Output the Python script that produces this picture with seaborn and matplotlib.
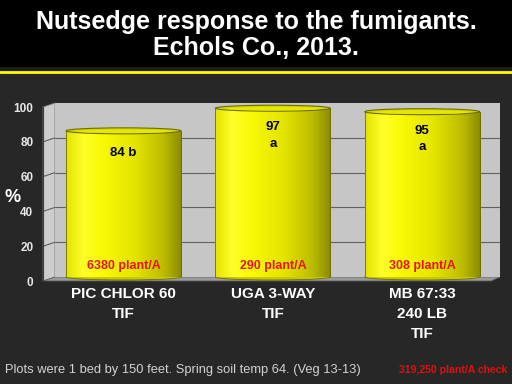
import numpy as np
import pandas as pd
import matplotlib
matplotlib.use("Agg")
import matplotlib.pyplot as plt
import seaborn as sns
from matplotlib.patches import Polygon, Ellipse, Rectangle
from matplotlib.lines import Line2D
from matplotlib.colors import LinearSegmentedColormap

# ---- data ----
categories = ["PIC CHLOR 60\nTIF", "UGA 3-WAY\nTIF", "MB 67:33\n240 LB\nTIF"]
values = [84, 97, 95]
letters = ["b", "a", "a"]
counts = ["6380 plant/A", "290 plant/A", "308 plant/A"]
yticks = [0, 20, 40, 60, 80, 100]
title_lines = ["Nutsedge response to the fumigants.", "Echols Co., 2013."]
footer = "Plots were 1 bed by 150 feet. Spring soil temp 64. (Veg 13-13)"
check = "319,250 plant/A check"

df = pd.DataFrame({"treatment": categories, "control": values})

sns.set_theme(style="white")
plt.rcParams['font.family'] = ['Liberation Sans', 'DejaVu Sans']

W, H = 512, 384
fig = plt.figure(figsize=(5.12, 3.84), dpi=100, facecolor="#272727")

def fx(x):
    return x / W

def fy(y):
    return 1 - y / H

# header band and yellow rule
fig.add_artist(Rectangle((0, fy(67)), 1, 67 / H, transform=fig.transFigure,
                         facecolor="black", edgecolor="none", zorder=-5))
fig.add_artist(Rectangle((0, fy(70)), 1, 3 / H, transform=fig.transFigure,
                         facecolor="#1c1c1c", edgecolor="none", zorder=-5))
fig.add_artist(Line2D([0, 1], [fy(72), fy(72)], transform=fig.transFigure,
                      color="#ffff00", lw=2.0, zorder=-4))
for yy, line in zip([21.5, 48], title_lines):
    fig.text(0.5, fy(yy), line, ha="center", va="center", color="white",
             fontsize=18, fontweight="bold")

# ---- geometry (pixels) ----
wall_l, wall_r, wall_t, wall_b = 55, 500, 103, 277
front_l, front_b = 43, 281
ppu = (wall_b - wall_t) / 100.0

# side wall
side = Polygon([(fx(front_l), fy(front_b)), (fx(front_l), fy(front_b - 100 * ppu)),
                (fx(wall_l), fy(wall_t)), (fx(wall_l), fy(wall_b))],
               closed=True, transform=fig.transFigure, facecolor="#cdcdcd",
               edgecolor="#777777", lw=0.6, zorder=-3)
fig.add_artist(side)
for v in yticks[1:-1]:
    fig.add_artist(Line2D([fx(front_l), fx(wall_l)],
                          [fy(front_b - v * ppu), fy(wall_b - v * ppu)],
                          transform=fig.transFigure, color="#606060", lw=0.8, zorder=-2))
# floor
floor = Polygon([(fx(front_l), fy(front_b)), (fx(wall_l), fy(wall_b)),
                 (fx(wall_r), fy(wall_b)), (fx(wall_r - 9), fy(front_b))],
                closed=True, transform=fig.transFigure, facecolor="#9a9a9a",
                edgecolor="#666666", lw=0.6, zorder=-3)
fig.add_artist(floor)

# ---- main axes (back wall) ----
ax = fig.add_axes([fx(wall_l), fy(wall_b), (wall_r - wall_l) / W, (wall_b - wall_t) / H])
ax.set_facecolor("#c6c6c6")
sns.barplot(data=df, x="treatment", y="control", ax=ax, width=0.77,
            color="#ffff00", saturation=1, edgecolor="#6e6e00", linewidth=0.6)
x0 = -0.459
ax.set_xlim(x0, x0 + (wall_r - wall_l) / 149.3)
ax.set_ylim(0, 100)
for v in yticks[1:-1]:
    ax.axhline(v, color="#606060", lw=0.8, zorder=0)
for s in ax.spines.values():
    s.set_visible(False)
ax.set_yticks([])
ax.set_xlabel("")
ax.set_ylabel("")

cmap = LinearSegmentedColormap.from_list(
    "cyl", [(0, "#e2e200"), (0.15, "#ffff2a"), (0.3, "#fafa08"),
            (0.6, "#e4e400"), (0.85, "#bcbc00"), (1.0, "#8c8c00")])
grad = np.linspace(0, 1, 256)[None, :]
eh = 6 / ppu  # ellipse height in data units
for i, p in enumerate(ax.patches):
    bx, bw, bh = p.get_x(), p.get_width(), p.get_height()
    cx = bx + bw / 2
    # bottom rounded edge
    ax.add_patch(Ellipse((cx, 0), bw, eh, facecolor="#c8c800", edgecolor="#6e6e00",
                         lw=0.6, clip_on=False, zorder=1.5))
    im = ax.imshow(grad, extent=[bx, bx + bw, 0, bh], aspect="auto", cmap=cmap,
                   zorder=2, interpolation="bilinear")
    im.set_clip_path(p)
    ax.add_patch(Rectangle((bx, 0), bw, bh, facecolor="none", edgecolor="#6e6e00",
                           lw=0.6, zorder=2.5))
    ax.add_patch(Ellipse((cx, bh), bw, eh, facecolor="#d6d600", edgecolor="#6e6e00",
                         lw=0.8, zorder=3))
    ax.add_patch(Ellipse((cx, bh - 0.3), bw * 0.82, eh * 0.6, facecolor="#e6e600",
                         edgecolor="none", zorder=3.1))
    if i == 0:
        ax.text(cx, values[i] - 13, f"{values[i]} {letters[i]}", ha="center",
                va="center", fontsize=9.5, fontweight="bold", color="black", zorder=4)
    else:
        ax.text(cx, values[i] - 11, f"{values[i]}", ha="center", va="center",
                fontsize=9.5, fontweight="bold", color="black", zorder=4)
        ax.text(cx, values[i] - 20.5, letters[i], ha="center", va="center",
                fontsize=9.5, fontweight="bold", color="black", zorder=4)
    ax.text(cx, 6.3, counts[i], ha="center", va="center", fontsize=9,
            fontweight="bold", color="#e8141c", zorder=4)
ax.set_xlim(x0, x0 + (wall_r - wall_l) / 149.3)
ax.set_ylim(0, 100)
ax.tick_params(axis="x", length=0, pad=7)
for lab in ax.get_xticklabels():
    lab.set_color("white")
    lab.set_fontsize(11)
    lab.set_fontweight("bold")
    lab.set_linespacing(1.55)
    lab.set_verticalalignment("top")

# ---- front axis (ticks) ----
ax2 = fig.add_axes([fx(front_l), fy(front_b), (491 - front_l) / W, 100 * ppu / H])
ax2.patch.set_visible(False)
ax2.set_xlim(-0.5, 2.5)
ax2.set_ylim(0, 100)
ax2.set_xticks([-0.5, 0.5, 1.5, 2.5])
ax2.set_xticklabels([])
ax2.set_yticks(yticks)
ax2.set_yticklabels([str(t) for t in yticks])
for k in ["top", "right"]:
    ax2.spines[k].set_visible(False)
for k in ["left", "bottom"]:
    ax2.spines[k].set_color("#3a3a3a")
    ax2.spines[k].set_linewidth(0.8)
ax2.tick_params(axis="both", direction="out", length=4, width=0.8, color="#3a3a3a",
                pad=3)
for lab in ax2.get_yticklabels():
    lab.set_color("#e6e6e6")
    lab.set_fontsize(8.5)
    lab.set_fontweight("bold")

fig.text(fx(13), fy(197), "%", ha="center", va="center", color="white",
         fontsize=13, fontweight="bold")

fig.text(fx(5), fy(370), footer, ha="left", va="center", color="#d2d2d2", fontsize=9.3)
fig.text(fx(507), fy(370), check, ha="right", va="center", color="#e01010",
         fontsize=7.6, fontweight="bold")

fig.savefig("out.png", dpi=100, facecolor=fig.get_facecolor())
